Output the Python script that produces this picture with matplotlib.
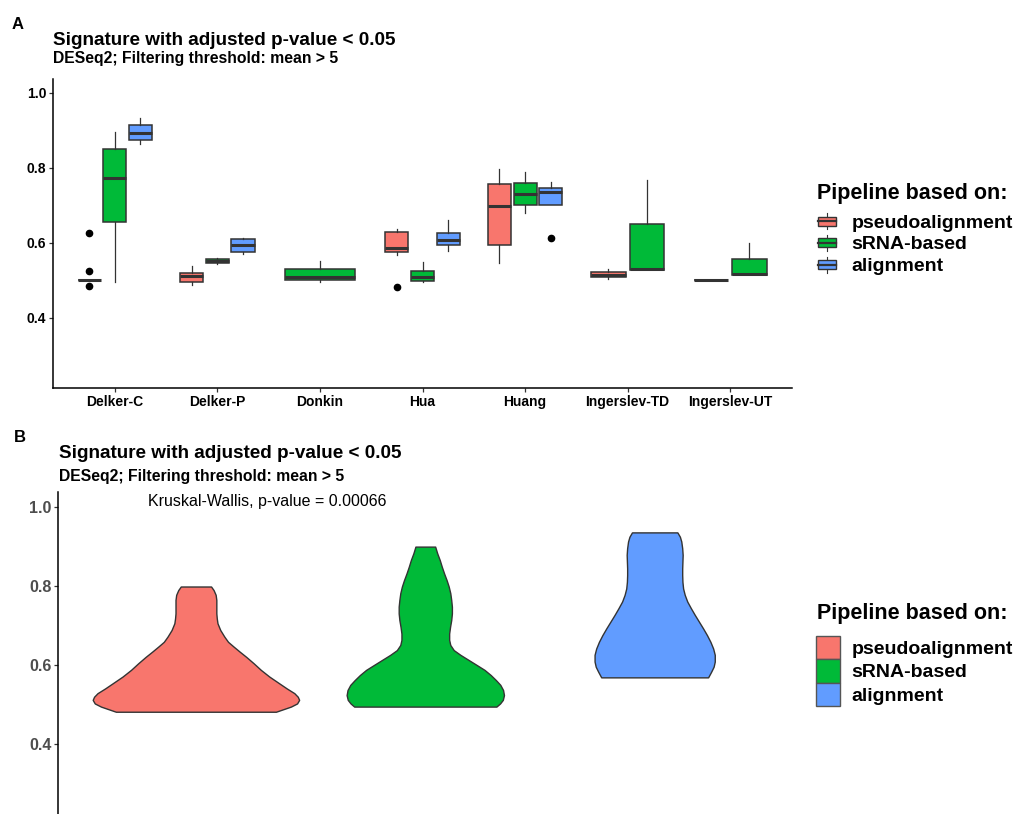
import numpy as np
import matplotlib
matplotlib.use("Agg")
import matplotlib.pyplot as plt
from matplotlib.patches import Rectangle, Patch
from matplotlib.lines import Line2D
from matplotlib.legend_handler import HandlerBase

plt.rcParams['font.family'] = ['Liberation Sans', 'DejaVu Sans']

datasets = ["Delker-C", "Delker-P", "Donkin", "Hua", "Huang", "Ingerslev-TD", "Ingerslev-UT"]
pipelines = ["pseudoalignment", "sRNA-based", "alignment"]
colors = ["#F8766D", "#00BA38", "#619CFF"]

# box stats per dataset: (whislo, q1, med, q3, whishi), None = not available
pseudo_box = [(0.500, 0.500, 0.500, 0.500, 0.500), (0.486, 0.495, 0.512, 0.520, 0.538), None,
              (0.567, 0.576, 0.585, 0.628, 0.637), (0.547, 0.595, 0.699, 0.757, 0.797),
              (0.502, 0.508, 0.515, 0.522, 0.529), (0.500, 0.500, 0.500, 0.500, 0.500)]
srna_box = [(0.494, 0.656, 0.773, 0.850, 0.896), (0.543, 0.545, 0.550, 0.556, 0.558),
            (0.496, 0.501, 0.509, 0.530, 0.551), (0.494, 0.498, 0.509, 0.524, 0.549),
            (0.680, 0.701, 0.729, 0.758, 0.788), (0.527, 0.527, 0.530, 0.649, 0.767),
            (0.514, 0.514, 0.517, 0.557, 0.598)]
align_box = [(0.862, 0.874, 0.893, 0.913, 0.933), (0.570, 0.575, 0.594, 0.609, 0.612), None,
             (0.579, 0.595, 0.606, 0.625, 0.660), (0.701, 0.701, 0.736, 0.747, 0.761), None, None]
pseudo_out = [[0.627, 0.524, 0.484], [], [], [0.481], [], [], []]
srna_out = [[], [], [], [], [], [], []]
align_out = [[], [], [], [], [0.612], [], []]

# violin outlines: y value and half width
pseudo_vy = [0.798, 0.789, 0.777, 0.764, 0.747, 0.730, 0.717, 0.705, 0.688, 0.671, 0.658,
             0.646, 0.633, 0.620, 0.604, 0.587, 0.570, 0.553, 0.540, 0.528, 0.519, 0.511,
             0.502, 0.494, 0.481]
pseudo_vw = [0.066, 0.077, 0.086, 0.089, 0.089, 0.089, 0.091, 0.094, 0.106, 0.124, 0.140,
             0.164, 0.191, 0.219, 0.251, 0.283, 0.320, 0.363, 0.396, 0.429, 0.444, 0.450,
             0.441, 0.414, 0.349]
srna_vy = [0.899, 0.882, 0.865, 0.848, 0.831, 0.814, 0.798, 0.781, 0.764, 0.747, 0.730,
           0.713, 0.696, 0.679, 0.663, 0.650, 0.637, 0.625, 0.612, 0.599, 0.587, 0.574,
           0.561, 0.549, 0.536, 0.523, 0.511, 0.502, 0.494]
srna_vw = [0.043, 0.052, 0.063, 0.072, 0.082, 0.093, 0.102, 0.109, 0.113, 0.116, 0.116,
           0.113, 0.108, 0.104, 0.104, 0.109, 0.124, 0.153, 0.189, 0.225, 0.258, 0.285,
           0.308, 0.327, 0.339, 0.343, 0.338, 0.326, 0.310]
align_vy = [0.935, 0.924, 0.912, 0.895, 0.878, 0.861, 0.844, 0.827, 0.810, 0.793, 0.777,
            0.760, 0.743, 0.726, 0.709, 0.692, 0.675, 0.658, 0.641, 0.625, 0.608, 0.595,
            0.582, 0.568]
align_vw = [0.099, 0.110, 0.116, 0.120, 0.122, 0.121, 0.120, 0.120, 0.121, 0.124, 0.131,
            0.142, 0.158, 0.175, 0.193, 0.211, 0.228, 0.243, 0.255, 0.262, 0.262, 0.257,
            0.246, 0.233]

title = "Signature with adjusted p-value < 0.05"
subtitle = "DESeq2; Filtering threshold: mean > 5"
kw_label = "Kruskal-Wallis, p-value = 0.00066"
legend_title = "Pipeline based on:"
yticks = [0.4, 0.6, 0.8, 1.0]

EDGE = "#333333"


class BoxKey(HandlerBase):
    def create_artists(self, legend, orig, xd, yd, w, h, fontsize, trans):
        fc = orig.get_facecolor()
        x0, y0 = -xd, -yd
        cx = x0 + w / 2
        box = Rectangle((x0, y0 + 0.29 * h), w, 0.42 * h, facecolor=fc,
                        edgecolor=EDGE, lw=1.0, transform=trans)
        med = Line2D([x0, x0 + w], [y0 + 0.5 * h] * 2, color=EDGE, lw=1.6, transform=trans)
        wt = Line2D([cx, cx], [y0 + 0.71 * h, y0 + 0.87 * h], color=EDGE, lw=0.8, transform=trans)
        wb = Line2D([cx, cx], [y0 + 0.13 * h, y0 + 0.29 * h], color=EDGE, lw=0.8, transform=trans)
        return [wt, wb, box, med]


W, H = 1019, 814
fig = plt.figure(figsize=(W / 100, H / 100), dpi=100)

# ---------------- panel A ----------------
axA = fig.add_axes([53.3 / W, (H - 388) / H, 738.4 / W, 309.4 / H])
boxes = [pseudo_box, srna_box, align_box]
outs = [pseudo_out, srna_out, align_out]
for d in range(len(datasets)):
    present = [p for p in range(3) if boxes[p][d] is not None]
    slot = 0.75 / len(present)
    for i, p in enumerate(present):
        lo, q1, med, q3, hi = boxes[p][d]
        st = dict(whislo=lo, q1=q1, med=med, q3=q3, whishi=hi, fliers=outs[p][d])
        pos = d + 1 - 0.375 + slot * (i + 0.5)
        axA.bxp([st], positions=[pos], widths=slot * 0.9, patch_artist=True,
                showcaps=False,
                boxprops=dict(facecolor=colors[p], edgecolor=EDGE, linewidth=1.1),
                medianprops=dict(color=EDGE, linewidth=2.2),
                whiskerprops=dict(color=EDGE, linewidth=0.9),
                flierprops=dict(marker='o', markerfacecolor='black', markeredgecolor='black',
                                markersize=4.5))
axA.set_xlim(0.4, 7.6)
axA.set_ylim(0.2125, 1.0375)
axA.set_xticks(range(1, 8))
axA.set_xticklabels(datasets)
axA.set_yticks(yticks)
axA.set_yticklabels([f"{v:.1f}" for v in yticks])
for s in ["top", "right"]:
    axA.spines[s].set_visible(False)
for s in ["left", "bottom"]:
    axA.spines[s].set_linewidth(1.1)
axA.tick_params(length=3, width=0.9, color=EDGE, pad=2)
for lab in axA.get_xticklabels() + axA.get_yticklabels():
    lab.set_fontweight("bold")
    lab.set_fontsize(10)
    lab.set_color("black")

handlesA = [Patch(facecolor=c, label=l) for c, l in zip(colors, pipelines)]
axA.legend(handles=handlesA, handler_map={Patch: BoxKey()}, loc="upper left",
           bbox_to_anchor=(818.3 / W, (H - 210.4) / H), bbox_transform=fig.transFigure,
           frameon=False, borderpad=0, borderaxespad=0,
           prop=dict(size=14, weight="bold"), handlelength=0.93, handleheight=1.337,
           handletextpad=0.77, labelspacing=0.0)
fig.text(816.7 / W, (H - 199.4) / H, legend_title, fontsize=15.5, fontweight="bold",
         va="baseline")

fig.text(12 / W, (H - 29) / H, "A", fontsize=12, fontweight="bold", va="baseline")
fig.text(53.3 / W, (H - 45) / H, title, fontsize=13.6, fontweight="bold", va="baseline")
fig.text(53.3 / W, (H - 63.3) / H, subtitle, fontsize=11.3, fontweight="bold", va="baseline")

# ---------------- panel B ----------------
axB = fig.add_axes([58.3 / W, -3.8 / H, 734 / W, 325.9 / H])
vys = [pseudo_vy, srna_vy, align_vy]
vws = [pseudo_vw, srna_vw, align_vw]
for p in range(3):
    y = np.array(vys[p])
    w = np.array(vws[p])
    axB.fill_betweenx(y, p + 1 - w, p + 1 + w, facecolor=colors[p], edgecolor=EDGE,
                      linewidth=1.0, joinstyle="round")
axB.set_xlim(0.4, 3.6)
axB.set_ylim(0.2125, 1.0375)
axB.set_yticks(yticks)
axB.set_yticklabels([f"{v:.1f}" for v in yticks])
axB.set_xticks([])
for s in ["top", "right", "bottom"]:
    axB.spines[s].set_visible(False)
axB.spines["left"].set_linewidth(1.1)
axB.tick_params(axis="y", length=3, width=0.9, color=EDGE, pad=2)
for lab in axB.get_yticklabels():
    lab.set_fontweight("bold")
    lab.set_fontsize(11.6)
    lab.set_color("#4D4D4D")
axB.text(0.793, 1.014, kw_label, fontsize=11.5, ha="left", va="center")

handlesB = [Patch(facecolor=c, edgecolor="#555555", linewidth=1.0, label=l)
            for c, l in zip(colors, pipelines)]
axB.legend(handles=handlesB, loc="upper left",
           bbox_to_anchor=(816 / W, (H - 636) / H), bbox_transform=fig.transFigure,
           frameon=False, borderpad=0, borderaxespad=0,
           prop=dict(size=14, weight="bold"), handlelength=1.23, handleheight=1.469,
           handletextpad=0.6, labelspacing=0.0)
fig.text(816.7 / W, (H - 619.4) / H, legend_title, fontsize=15.5, fontweight="bold",
         va="baseline")

fig.text(14 / W, (H - 441.7) / H, "B", fontsize=12, fontweight="bold", va="baseline")
fig.text(59 / W, (H - 457.8) / H, title, fontsize=13.6, fontweight="bold", va="baseline")
fig.text(59 / W, (H - 481.3) / H, subtitle, fontsize=11.3, fontweight="bold", va="baseline")

fig.savefig("out.png", dpi=100)
